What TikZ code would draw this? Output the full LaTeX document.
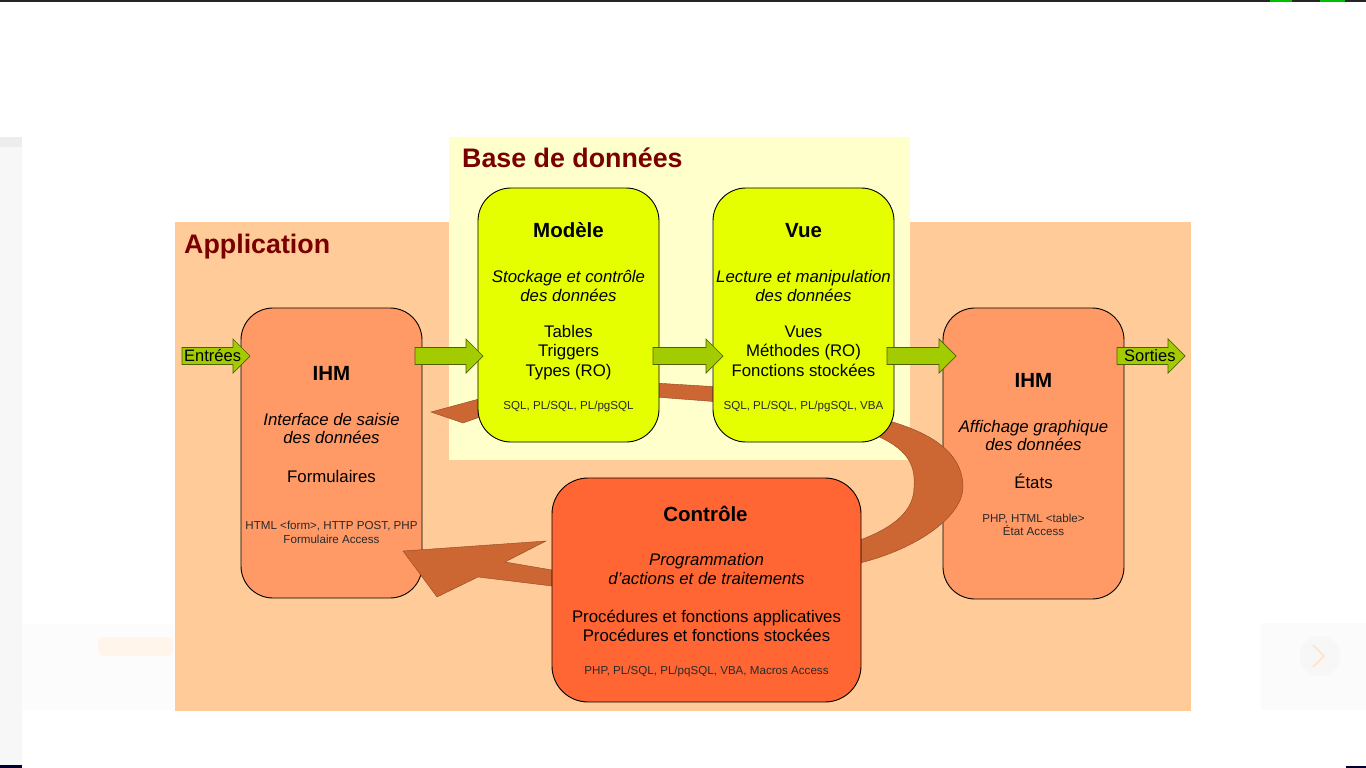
\documentclass[tikz,border=0pt]{standalone}
\usepackage{fontspec}
\setmainfont{Liberation Sans}
\definecolor{appc}{HTML}{FFCC99}
\definecolor{bddc}{HTML}{FFFFCC}
\definecolor{ihmc}{HTML}{FF9966}
\definecolor{modc}{HTML}{E6FF00}
\definecolor{ctrc}{HTML}{FF6633}
\definecolor{brnc}{HTML}{CC6633}
\definecolor{grc}{HTML}{A3CC00}
\definecolor{grd}{HTML}{4F6000}
\definecolor{titc}{HTML}{7A0000}
\definecolor{smc}{HTML}{2A2A2A}
\newcommand\GreenArrow[2]{\filldraw[garrow] (#1,347.5) -- (#2-17,347.5) -- (#2-17,339) -- (#2,356) -- (#2-17,373) -- (#2-17,364.5) -- (#1,364.5) -- cycle;}
\begin{document}
\begin{tikzpicture}[x=1pt,y=-1pt,
  box/.style={draw=black, line width=0.9pt},
  tit/.style={font=\fontsize{26.8}{30}\selectfont\bfseries, text=titc, anchor=base west, inner sep=0},
  hd/.style={font=\fontsize{20.5}{24}\selectfont\bfseries, anchor=base, inner sep=0},
  itl/.style={font=\fontsize{16.8}{19}\selectfont\itshape, anchor=base, inner sep=0},
  rgl/.style={font=\fontsize{16.8}{19}\selectfont, anchor=base, inner sep=0},
  sml/.style={font=\fontsize{11.6}{14}\selectfont, text=smc, anchor=base, inner sep=0},
  garrow/.style={fill=grc, draw=grd, line width=0.7pt},
  brarrow/.style={fill=brnc, draw=brnc!70!black, line width=0.4pt}]
\useasboundingbox (0,0) rectangle (1366,768);
\fill[white] (0,0) rectangle (1366,768);
% screen artifacts
\fill[black!85] (0,0) rectangle (1366,2);
\fill[green!75!black] (1270,0) rectangle (1292,2);
\fill[green!75!black] (1320,0) rectangle (1345,2);
\fill[black!3] (0,137) rectangle (22,768);
\fill[black!7] (0,137) rectangle (22,147);
\fill[black!1] (22,624) rectangle (175,710);
\fill[orange!8, rounded corners=5pt] (98,637) rectangle (173,656);
\fill[black!1.5] (1261,623) rectangle (1366,710);
\fill[black!3] (1320,656) circle (20);
\draw[orange!20, line width=2pt] (1313,645) -- (1324,656) -- (1313,667);
\fill[black!80!blue] (0,765) rectangle (22,768);
\fill[black!80!blue] (1346,766) rectangle (1366,768);
% backgrounds
\fill[appc] (175,222) rectangle (1191,711);
\fill[bddc] (449,137) rectangle (910,460);
\node[tit] (tbdd) at (462,167) {Base de données};
\node[tit] (tapp) at (184,253) {Application};
% IHM boxes
\node[box, fill=ihmc, rounded corners=32pt, minimum width=181pt, minimum height=290pt] (ihmL) at (331.5,453) {};
\node[box, fill=ihmc, rounded corners=32pt, minimum width=181pt, minimum height=291pt] (ihmR) at (1033.5,453.5) {};
% brown arrows
\filldraw[brarrow] (720,387) -- (655,383) -- (490,396) -- (431,412) -- (463,423) -- (480,417) -- (655,397) -- (720,402) -- cycle;
\filldraw[brarrow] (878,418) .. controls (935,432) and (963,455) .. (963,487)
  .. controls (963,515) and (920,548) .. (860,563) -- (552,586) -- (478,577) -- (437,597) -- (403,551)
  -- (546,541) -- (505,562) -- (552,570) -- (860,540)
  .. controls (895,527) and (914,510) .. (914,487)
  .. controls (916,462) and (905,445) .. (862,430) -- cycle;
% database boxes
\node[box, fill=modc, rounded corners=33pt, minimum width=181pt, minimum height=254pt] (modele) at (568.5,315) {};
\node[box, fill=modc, rounded corners=33pt, minimum width=181pt, minimum height=254pt] (vue) at (803.5,315) {};
\node[box, fill=ctrc, rounded corners=36pt, minimum width=309pt, minimum height=224pt] (ctrl) at (706.5,590) {};
% green arrows
\GreenArrow{182}{250}
\GreenArrow{415}{483}
\GreenArrow{653}{723}
\GreenArrow{887}{956}
\GreenArrow{1117}{1185}
\node[font=\fontsize{16.5}{19}\selectfont, anchor=base west, inner sep=0] (entrees) at (184,361) {Entrées};
\node[font=\fontsize{16.5}{19}\selectfont, anchor=base west, inner sep=0] (sorties) at (1124,361) {Sorties};
% Modele text
\node[hd] (m1) at (568.5,237) {Modèle};
\node[itl] (m2) at (568.5,282) {Stockage et contrôle};
\node[itl] (m3) at (568.5,301) {des données};
\node[rgl] (m4) at (568.5,337) {Tables};
\node[rgl] (m5) at (568.5,356.5) {Triggers};
\node[rgl] (m6) at (568.5,376) {Types (RO)};
\node[sml] (m7) at (568.5,409) {SQL, PL/SQL, PL/pgSQL};
% Vue text
\node[hd] (v1) at (803.5,237) {Vue};
\node[itl] (v2) at (803.5,282) {Lecture et manipulation};
\node[itl] (v3) at (803.5,301) {des données};
\node[rgl] (v4) at (803.5,337) {Vues};
\node[rgl] (v5) at (803.5,356.5) {Méthodes (RO)};
\node[rgl] (v6) at (803.5,376) {Fonctions stockées};
\node[sml] (v7) at (803.5,409) {SQL, PL/SQL, PL/pgSQL, VBA};
% IHM left text
\node[hd] (l1) at (331.5,380) {IHM};
\node[itl] (l2) at (331.5,425) {Interface de saisie};
\node[itl] (l3) at (331.5,443) {des données};
\node[rgl] (l4) at (331.5,482) {Formulaires};
\node[sml] (l5) at (331.5,529) {HTML <form>, HTTP POST, PHP};
\node[sml] (l6) at (331.5,543) {Formulaire Access};
% IHM right text
\node[hd] (r1) at (1033.5,387) {IHM};
\node[itl] (r2) at (1033.5,432) {Affichage graphique};
\node[itl] (r3) at (1033.5,450) {des données};
\node[rgl] (r4) at (1033.5,488) {États};
\node[sml] (r5) at (1033.5,522) {PHP, HTML <table>};
\node[sml] (r6) at (1033.5,535) {État Access};
% Controle text
\node[hd] (c1) at (705.5,521) {Contrôle};
\node[itl] (c2) at (706.5,565) {Programmation};
\node[itl] (c3) at (706.5,584) {d'actions et de traitements};
\node[rgl] (c4) at (706.5,622) {Procédures et fonctions applicatives};
\node[rgl] (c5) at (706.5,641) {Procédures et fonctions stockées};
\node[sml] (c6) at (706.5,674) {PHP, PL/SQL, PL/pqSQL, VBA, Macros Access};
\end{tikzpicture}
\end{document}
